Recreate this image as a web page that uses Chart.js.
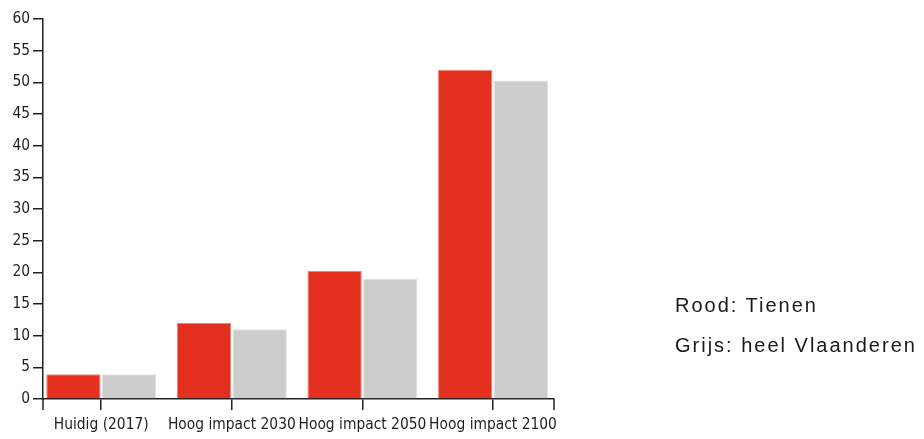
<!DOCTYPE html>
<html>
<head>
<meta charset="utf-8">
<script src="https://cdn.jsdelivr.net/npm/chart.js@4/dist/chart.umd.min.js"></script>
<style>
  html, body { margin: 0; padding: 0; background: #fff; }
  #wrap { position: relative; width: 924px; height: 439px; overflow: hidden; }
  canvas { position: absolute; left: 0; top: 0; }
  .note { position: absolute; left: 675px; font-family: "Liberation Sans", Arial, sans-serif; font-size: 20px; letter-spacing: 2px; color: #1a1a1a; white-space: nowrap; line-height: 1; }
</style>
</head>
<body>
<div id="wrap">
  <canvas id="c" width="924" height="439"></canvas>
  <div class="note" id="n1" style="top:295px">Rood: Tienen</div>
  <div class="note" id="n2" style="top:335px">Grijs: heel Vlaanderen</div>
</div>
<script>
const categories = ["Huidig (2017)", "Hoog impact 2030", "Hoog impact 2050", "Hoog impact 2100"];
const tienen = [3.9, 12, 20.2, 52];
const vlaanderen = [3.9, 11, 19, 50.3];
const yTicks = [0, 5, 10, 15, 20, 25, 30, 35, 40, 45, 50, 55, 60];

const RED = "#e4301f";
const GRAY = "#cccccc";
const AXIS = "#222222";
const FAMILY = "'Liberation Sans Narrow', 'Arial Narrow', 'DejaVu Sans Condensed', sans-serif";

// pick a size so the first label is about as wide as in the reference
const mctx = document.createElement("canvas").getContext("2d");
mctx.font = "100px " + FAMILY;
const w100 = mctx.measureText(categories[0]).width;
const fontSize = Math.min(19, Math.max(13, 95 * 100 / w100));
const LABEL_FONT = { family: FAMILY, size: fontSize };

const outerTicks = {
  id: "outerTicks",
  afterDraw(chart) {
    const { ctx, chartArea } = chart;
    const len = chart.options.scales.x.grid.tickLength;
    ctx.save();
    ctx.strokeStyle = AXIS;
    ctx.lineWidth = 1.5;
    ctx.beginPath();
    [chartArea.left, chartArea.right].forEach(x => {
      ctx.moveTo(x, chartArea.bottom);
      ctx.lineTo(x, chartArea.bottom + len);
    });
    ctx.stroke();
    ctx.restore();
  }
};

new Chart(document.getElementById("c"), {
  type: "bar",
  data: {
    datasets: [
      { label: "Tienen", data: tienen.map((v, i) => ({ x: i, y: v })), backgroundColor: RED, borderColor: "#ee8478", borderWidth: 1 },
      { label: "Vlaanderen", data: vlaanderen.map((v, i) => ({ x: i, y: v })), backgroundColor: GRAY, borderColor: "#e2e2e2", borderWidth: 1 }
    ]
  },
  options: {
    responsive: false,
    animation: false,
    devicePixelRatio: 1,
    layout: { padding: { top: 19, right: 370, left: 0, bottom: 0 } },
    plugins: { legend: { display: false }, tooltip: { enabled: false } },
    datasets: { bar: { categoryPercentage: 0.852, barPercentage: 0.976 } },
    scales: {
      x: {
        type: "linear",
        offset: false,
        min: -0.446,
        max: 3.467,
        afterBuildTicks: (s) => { s.ticks = categories.map((_, i) => ({ value: i })); },
        afterFit: (s) => { s.height = 40; },
        ticks: {
          callback: (v) => categories[v] ?? "",
          color: "#1e1e1e",
          font: LABEL_FONT,
          padding: 6,
          maxRotation: 0,
          minRotation: 0,
          autoSkip: false
        },
        grid: { offset: false, drawOnChartArea: false, drawTicks: true, tickLength: 11, color: AXIS, lineWidth: 1.5 },
        border: { display: true, color: AXIS, width: 1.5 }
      },
      y: {
        min: 0,
        max: 60,
        afterBuildTicks: (s) => { s.ticks = yTicks.map(v => ({ value: v })); },
        afterFit: (s) => { s.width = 43; },
        ticks: { color: "#1e1e1e", font: LABEL_FONT, padding: 3 },
        grid: { drawOnChartArea: false, drawTicks: true, tickLength: 10, color: AXIS, lineWidth: 1.5 },
        border: { display: true, color: AXIS, width: 1.5 }
      }
    }
  },
  plugins: [outerTicks]
});
</script>
</body>
</html>
